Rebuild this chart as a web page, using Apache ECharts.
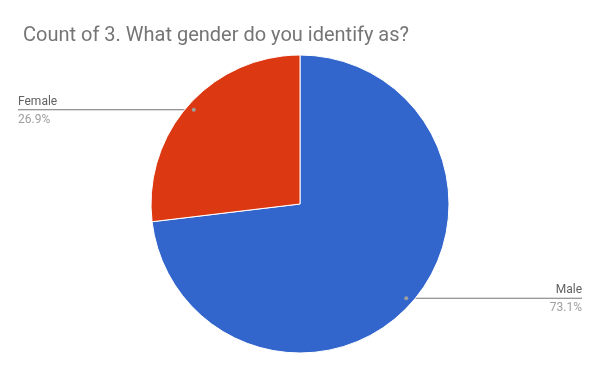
<!DOCTYPE html>
<html><head><meta charset="utf-8">
<script src="https://cdn.jsdelivr.net/npm/echarts@6/dist/echarts.min.js"></script>
<style>html,body{margin:0;padding:0;background:#fff}#c{width:600px;height:371px}</style>
</head><body><div id="c"></div>
<script>
const titleText = 'Count of 3. What gender do you identify as?';
const categories = ['Male', 'Female'];
const values = [73.1, 26.9];
const colors = ['#3366cc', '#dc3912'];

const CX = 300, CY = 204, R = 149, DOT_K = 0.953;
const total = values.reduce((a, b) => a + b, 0);

// dot positions derived from the data (mid-angle of each slice)
const dots = [];
let acc = 0;
values.forEach(v => {
  const mid = (acc + v / 2) / total * 2 * Math.PI;
  acc += v;
  dots.push([CX + Math.sin(mid) * R * DOT_K, CY - Math.cos(mid) * R * DOT_K]);
});

const chart = echarts.init(document.getElementById('c'));
chart.setOption({
  animation: false,
  title: {
    text: titleText, left: 18, top: 21,
    textStyle: { fontFamily: 'Roboto', fontSize: 20, fontWeight: 'normal', color: '#757575' }
  },
  graphic: dots.map(d => ({
    type: 'circle', shape: { cx: d[0], cy: d[1], r: 2 },
    style: { fill: '#9e9e9e' }, z: 100
  })),
  series: [{
    type: 'pie',
    center: [CX, CY],
    radius: [0, R],
    startAngle: 90,
    clockwise: true,
    data: categories.map((c, i) => ({ name: c, value: values[i], itemStyle: { color: colors[i] } })),
    itemStyle: { borderColor: '#ffffff', borderWidth: 1 },
    label: {
      show: true,
      formatter: p => '{n|' + p.name + '}\n{p|' + p.value.toFixed(1) + '%}',
      rich: {
        n: { fontFamily: 'Roboto', fontSize: 12, color: '#616161', lineHeight: 18 },
        p: { fontFamily: 'Roboto', fontSize: 12, color: '#9e9e9e', lineHeight: 18 }
      }
    },
    labelLine: { show: true, lineStyle: { color: '#757575', width: 1 } },
    labelLayout: function (params) {
      const d = dots[params.dataIndex];
      const left = d[0] < CX;
      const endX = left ? 18 : 582;
      return {
        x: endX, y: d[1] + 1,
        align: left ? 'left' : 'right',
        verticalAlign: 'middle',
        labelLinePoints: [[d[0], d[1]], [endX, d[1]], [endX, d[1]]]
      };
    },
    emphasis: { disabled: true }
  }]
});
</script></body></html>
